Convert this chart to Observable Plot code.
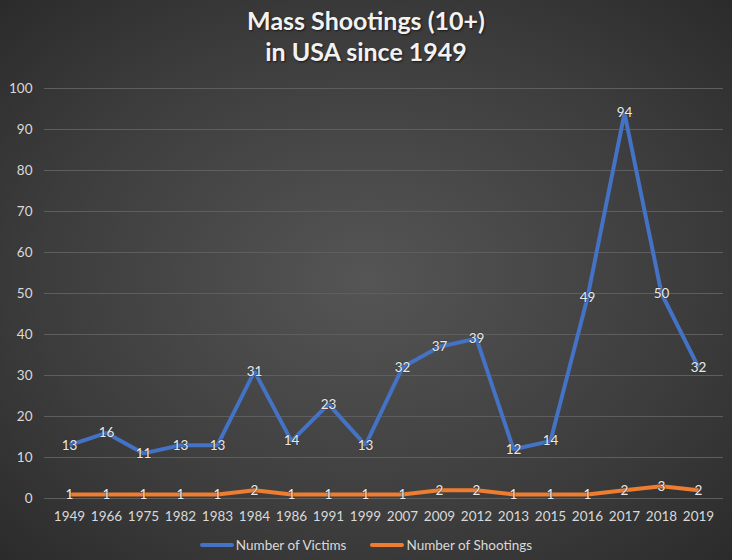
<!DOCTYPE html>
<html>
<head>
<meta charset="utf-8">
<script src="https://cdn.jsdelivr.net/npm/d3@7"></script>
<script src="https://cdn.jsdelivr.net/npm/@observablehq/plot@0.6"></script>
<style>
  html, body { margin: 0; padding: 0; }
  #wrap {
    width: 732px; height: 560px; position: relative; overflow: hidden;
    background: radial-gradient(ellipse 75% 75% at 50% 50%, #555555 0%, #3c3c3c 60%, #282828 100%);
    font-family: Lato, "Open Sans", sans-serif;
  }
  #title {
    height: 78px; box-sizing: border-box; padding-top: 5px;
    text-align: center; color: #f2f2f2; font-weight: bold; font-size: 25px; line-height: 31px;
    text-shadow: 1px 1px 2px rgba(0,0,0,0.6);
  }
  #legend {
    position: absolute; left: 0; top: 537px; width: 732px; display: flex; justify-content: center;
    gap: 24px; font-size: 13.5px; color: #d9d9d9;
  }
  .item { display: flex; align-items: center; gap: 2px; }
  .sw { width: 34px; height: 4px; border-radius: 2px; }
</style>
</head>
<body>
<div id="wrap">
  <div id="title">Mass Shootings (10+)<br>in USA since 1949</div>
  <div id="chart"></div>
  <div id="legend"></div>
</div>
<script>
const years = ["1949","1966","1975","1982","1983","1984","1986","1991","1999","2007","2009","2012","2013","2015","2016","2017","2018","2019"];
const victims = [13,16,11,13,13,31,14,23,13,32,37,39,12,14,49,94,50,32];
const shootings = [1,1,1,1,1,2,1,1,1,1,2,2,1,1,1,2,3,2];
const seriesNames = ["Number of Victims", "Number of Shootings"];
const seriesColors = ["#4472C4", "#ED7D31"];
const yTicks = [0,10,20,30,40,50,60,70,80,90,100];

const data = [];
years.forEach((y, i) => {
  data.push({year: y, value: victims[i], series: seriesNames[0]});
  data.push({year: y, value: shootings[i], series: seriesNames[1]});
});

const chart = Plot.plot({
  width: 732,
  height: 450,
  marginLeft: 44,
  marginRight: 9,
  marginTop: 10,
  marginBottom: 30,
  style: { background: "transparent", color: "#d9d9d9", fontFamily: "Lato, 'Open Sans', sans-serif", fontSize: "13px" },
  x: { type: "point", domain: years, padding: 0.5, label: null },
  y: { domain: [0, 100], label: null },
  color: { domain: seriesNames, range: seriesColors },
  marks: [
    Plot.ruleY(yTicks, { stroke: "#5e5e5e", strokeWidth: 1 }),
    Plot.axisY(yTicks, { tickSize: 0, tickPadding: 12, label: null, fontSize: 13.5, fill: "#d9d9d9" }),
    Plot.axisX({ tickSize: 0, tickPadding: 13, label: null, fontSize: 13.5, fill: "#d9d9d9" }),
    Plot.line(data, { x: "year", y: "value", z: "series", stroke: "series", strokeWidth: 4, strokeLinejoin: "miter", strokeLinecap: "butt" }),
    Plot.text(data, { x: "year", y: "value", text: "value", fill: "#e8e8e8", fontSize: 13.5, stroke: "rgba(50,50,50,0.45)", strokeWidth: 1.5 })
  ]
});
document.getElementById("chart").appendChild(chart);

const legend = document.getElementById("legend");
seriesNames.forEach((n, i) => {
  const it = document.createElement("div");
  it.className = "item";
  it.innerHTML = `<span class="sw" style="background:${seriesColors[i]}"></span><span>${n}</span>`;
  legend.appendChild(it);
});
</script>
</body>
</html>
